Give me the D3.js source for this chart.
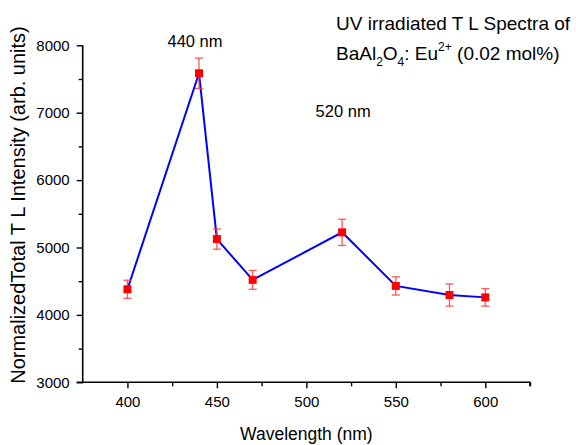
<!DOCTYPE html>
<html>
<head>
<meta charset="utf-8">
<script src="https://cdn.jsdelivr.net/npm/d3@7/dist/d3.min.js"></script>
<style>
  html, body { margin: 0; padding: 0; background: #fff; }
  svg { display: block; font-family: "Liberation Sans", Arial, sans-serif; }
</style>
</head>
<body>
<svg id="chart" width="576" height="445"></svg>
<script>
// Thermoluminescence intensity versus emission wavelength
const wavelengths = [400, 440, 450, 470, 520, 550, 580, 600];
const intensity   = [4380, 7585, 5125, 4520, 5225, 4430, 4295, 4260];
const errors      = [135, 225, 150, 140, 195, 135, 165, 130];

const xMajorTicks = [400, 450, 500, 550, 600];
const xMinorTicks = [425, 475, 525, 575, 625];
const yMajorTicks = [3000, 4000, 5000, 6000, 7000, 8000];
const yMinorTicks = [3500, 4500, 5500, 6500, 7500];

const peakWavelengths = [440, 520];
const peakTexts = ["440 nm", "520 nm"];

const svg = d3.select("#chart");
const margin = { left: 82.7, right: 46, top: 45.3, bottom: 62.7 };
const W = 576, H = 445;

const x = d3.scaleLinear().domain([375, 625]).range([margin.left, W - margin.right]);
const y = d3.scaleLinear().domain([3000, 8000]).range([H - margin.bottom, margin.top]);

const tickFont = "15px";

// X axis
const gx = svg.append("g").attr("transform", `translate(0,${y(3000)})`);
gx.call(d3.axisBottom(x).tickValues(xMajorTicks).tickSize(6).tickSizeOuter(0).tickPadding(8).tickFormat(d3.format("d")));
gx.append("g").call(d3.axisBottom(x).tickValues(xMinorTicks).tickSize(4).tickSizeOuter(0).tickFormat(""))
  .select(".domain").remove();
gx.selectAll("path.domain").attr("stroke", "#000").attr("stroke-width", 1.6)
  .attr("d", `M${x(375) - 6},0H${x(625)}V4`);
gx.selectAll(".tick line").attr("stroke", "#000").attr("stroke-width", 1.4);
gx.selectAll(".tick text").attr("font-size", tickFont).attr("fill", "#000")
  .attr("font-family", "Liberation Sans, Arial, sans-serif");

// Y axis
const gy = svg.append("g").attr("transform", `translate(${x(375)},0)`);
gy.call(d3.axisLeft(y).tickValues(yMajorTicks).tickSize(6).tickSizeOuter(0).tickPadding(7).tickFormat(d3.format("d")));
gy.append("g").call(d3.axisLeft(y).tickValues(yMinorTicks).tickSize(4).tickSizeOuter(0).tickFormat(""))
  .select(".domain").remove();
gy.selectAll("path.domain").attr("stroke", "#000").attr("stroke-width", 1.6)
  .attr("d", `M0,${y(3000) + 1}V${y(8000)}`);
gy.selectAll(".tick line").attr("stroke", "#000").attr("stroke-width", 1.4);
gy.selectAll(".tick text").attr("font-size", tickFont).attr("fill", "#000")
  .attr("font-family", "Liberation Sans, Arial, sans-serif");

// Axis titles
svg.append("text")
  .attr("x", x(500)).attr("y", 440)
  .attr("text-anchor", "middle").attr("font-size", "17.5px").attr("fill", "#000")
  .text("Wavelength (nm)");

svg.append("text")
  .attr("transform", `translate(25,205) rotate(-90)`)
  .attr("text-anchor", "middle").attr("font-size", "20px").attr("fill", "#000")
  .text("NormalizedTotal T L Intensity (arb. units)");

// Data
const data = wavelengths.map((w, i) => ({ w, v: intensity[i], e: errors[i] }));

// Connecting line
svg.append("path")
  .datum(data)
  .attr("fill", "none")
  .attr("stroke", "#0000ff")
  .attr("stroke-width", 2)
  .attr("d", d3.line().x(d => x(d.w)).y(d => y(d.v)));

// Error bars
const eb = svg.append("g").attr("stroke", "#ff3b3b").attr("stroke-width", 1.3).attr("stroke-opacity", 0.85);
data.forEach(d => {
  const cx = x(d.w);
  eb.append("line").attr("x1", cx).attr("x2", cx).attr("y1", y(d.v + d.e)).attr("y2", y(d.v - d.e));
  eb.append("line").attr("x1", cx - 4).attr("x2", cx + 4).attr("y1", y(d.v + d.e)).attr("y2", y(d.v + d.e));
  eb.append("line").attr("x1", cx - 4).attr("x2", cx + 4).attr("y1", y(d.v - d.e)).attr("y2", y(d.v - d.e));
});

// Square markers
svg.append("g").selectAll("rect")
  .data(data)
  .join("rect")
  .attr("x", d => x(d.w) - 4)
  .attr("y", d => y(d.v) - 4)
  .attr("width", 8).attr("height", 8)
  .attr("fill", "#ff0000");

// Peak annotations: the main peak is labelled just above the frame,
// the secondary one sits higher up inside the plot
const peakLabelY = [47, 117];
const peakLabelDx = [-4, 1];
svg.append("g").selectAll("text")
  .data(peakWavelengths)
  .join("text")
  .attr("x", (d, i) => x(d) + peakLabelDx[i])
  .attr("y", (d, i) => peakLabelY[i])
  .attr("text-anchor", "middle")
  .attr("font-size", "16.5px").attr("fill", "#000")
  .text((d, i) => peakTexts[i]);

// Title block
const title = svg.append("g").attr("font-size", "19px").attr("fill", "#000");
title.append("text").attr("x", 336).attr("y", 30).text("UV irradiated T L Spectra of");
const t2 = title.append("text").attr("x", 336).attr("y", 60);
t2.append("tspan").text("BaAl");
t2.append("tspan").attr("font-size", "12px").attr("dy", 6).text("2");
t2.append("tspan").attr("dy", -6).text("O");
t2.append("tspan").attr("font-size", "12px").attr("dy", 6).text("4");
t2.append("tspan").attr("dy", -6).text(": Eu");
t2.append("tspan").attr("font-size", "12px").attr("dy", -9).text("2+");
t2.append("tspan").attr("dy", 9).text(" (0.02 mol%)");
</script>
</body>
</html>
